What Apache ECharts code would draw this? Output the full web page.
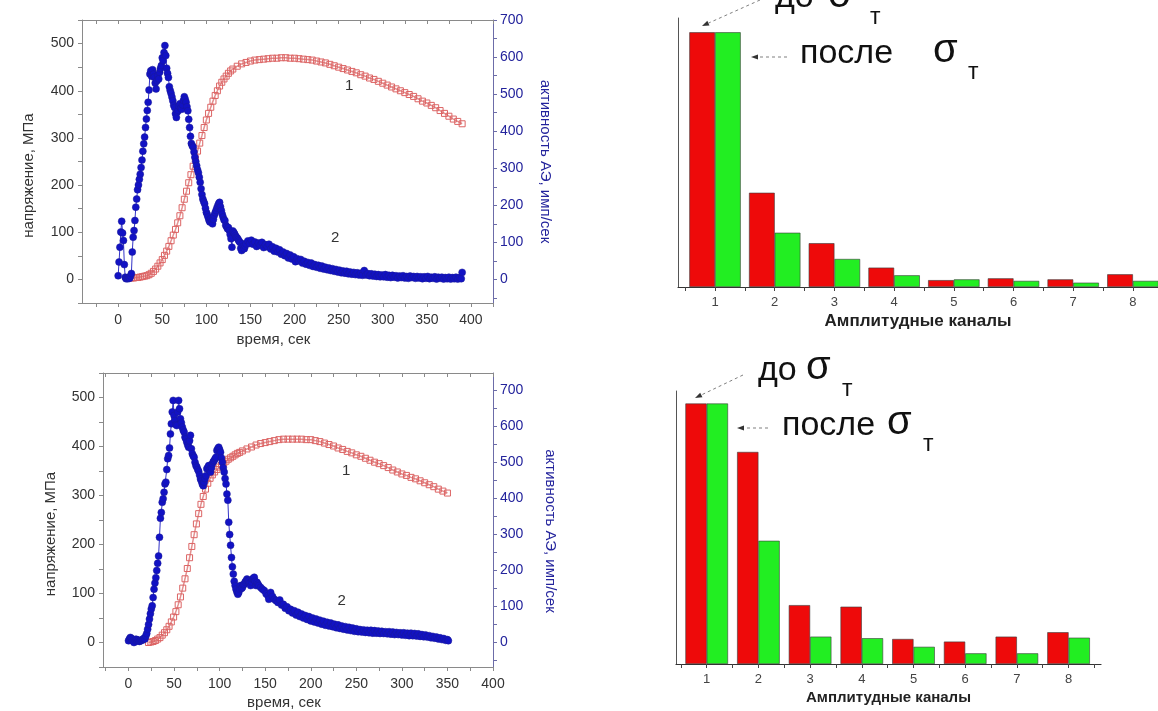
<!DOCTYPE html>
<html><head><meta charset="utf-8">
<script src="https://cdn.jsdelivr.net/npm/echarts@6/dist/echarts.min.js"></script>
<style>html,body{margin:0;padding:0;background:#fff}#c{width:1158px;height:711px}</style>
</head><body><div id="c"></div><script>
// ---------- data ----------
const timeTicksTop = [-25,0,25,50,75,100,125,150,175,200,225,250,275,300,325,350,375,400,425];
const timeTicksBottom = [-25,0,25,50,75,100,125,150,175,200,225,250,275,300,325,350,375,400];
const timeLabels = [0,50,100,150,200,250,300,350,400];
const stressTicks = [-50,0,50,100,150,200,250,300,350,400,450,500,550];
const stressLabels = [0,100,200,300,400,500];
const activityTicks = [-50,0,50,100,150,200,250,300,350,400,450,500,550,600,650,700];
const activityLabels = [0,100,200,300,400,500,600,700];
const channels = [1,2,3,4,5,6,7,8];
const channelTicks = [0.5,1,1.5,2,2.5,3,3.5,4,4.5,5,5.5,6,6.5,7,7.5,8,8.5];

// top-left: stress (MPa) vs time
const topStress = [[15,3],[17.5,3],[20,4],[22.5,4],[25,5],[27.5,6],[30,7],[32.5,8],[35,10],[37.5,13],[40,17],[42.5,22],[45,28],[47.5,35],[50,42],[52.5,51],[55,60],[57.5,70],[60,82],[62.5,94],[65,106],[67.5,120],[70,135],[72.5,152],[75,170],[77.5,187],[80,205],[82.5,222],[85,240],[87.5,256],[90,272],[92.5,289],[95,305],[97.5,322],[100,338],[102.5,352],[105,365],[107.5,378],[110,390],[112.5,400],[115,410],[117.5,418],[120,425],[122.5,431],[125,437],[127.5,442],[130,446],[135,452],[140,457],[145,460],[150,463],[155,465],[160,466],[165,467],[170,468],[175,469],[180,469],[185,470],[190,470],[195,469],[200,469],[205,468],[210,467],[215,466],[220,465],[225,463],[230,461],[235,459],[240,456],[245,453],[250,450],[255,447],[260,444],[265,441],[270,438],[275,434],[280,431],[285,427],[290,424],[295,420],[300,416],[305,412],[310,408],[315,404],[320,400],[325,396],[330,392],[335,388],[340,383],[345,378],[350,374],[355,369],[360,364],[365,358],[370,352],[375,346],[380,340],[385,335],[390,330]];
// top-left: AE activity (imp/s) vs time
const topActivity = [[0,10],[1,47],[2,87],[3,128],[4,157],[5,125],[6,105],[7,40],[8,6],[9,2],[10,4],[11,2],[12,5],[13,3],[14,9],[15,16],[16,74],[17,114],[18,132],[19,159],[20,195],[21,217],[22,242],[23,255],[24,270],[25,284],[26,302],[27,322],[28,346],[29,366],[30,384],[31,410],[32,433],[33,456],[34,478],[35,511],[36,554],[37,563],[38,548],[39,566],[40,554],[41,546],[42,530],[43,514],[44,536],[45,550],[46,541],[47,559],[48,569],[49,577],[50,598],[51,590],[52,612],[53,631],[54,604],[55,570],[56,556],[57,545],[58,520],[59,510],[60,502],[61,492],[62,482],[63,470],[64,464],[65,447],[66,437],[67,452],[68,456],[69,468],[70,474],[71,462],[72,459],[73,471],[74,483],[75,493],[76,486],[77,478],[78,466],[79,455],[80,432],[81,410],[82,386],[83,367],[84,361],[85,357],[86,344],[87,330],[88,318],[89,307],[90,296],[91,288],[92,276],[93,262],[94,245],[95,229],[96,217],[97,210],[98,204],[99,192],[100,181],[101,175],[102,168],[103,160],[104,155],[105,164],[106,158],[107,150],[108,162],[109,173],[110,180],[111,186],[112,193],[113,199],[114,205],[115,208],[116,196],[117,186],[118,176],[119,168],[120,161],[121,159],[122,146],[123,142],[124,137],[125,140],[126,132],[127,121],[128,110],[129,87],[130,131],[131,127],[132,123],[133,118],[134,114],[135,112],[136,108],[137,104],[138,100],[139,84],[140,78],[141,96],[142,90],[143,83],[144,90],[145,96],[147,104],[149,97],[151,106],[153,95],[155,101],[157,89],[159,98],[161,92],[163,100],[165,86],[167,94],[169,88],[171,95],[173,82],[175,88],[177,76],[179,84],[181,74],[183,80],[185,68],[187,74],[189,64],[191,70],[193,58],[195,66],[197,55],[199,61],[201,48],[203,56],[205,50],[207,54],[209,44],[211,49],[213,41],[215,46],[217,38],[219,44],[221,35],[223,40],[225,33],[227,38],[229,30],[231,36],[233,28],[235,33],[237,26],[239,31],[241,24],[243,29],[245,22],[247,27],[249,20],[251,25],[253,18],[255,23],[257,17],[259,22],[261,15],[263,20],[265,14],[267,19],[269,13],[271,18],[273,12],[275,17],[277,11],[279,24],[281,12],[283,16],[285,10],[287,15],[289,9],[291,14],[293,8],[295,13],[297,7],[299,12],[301,7],[303,13],[305,6],[307,11],[309,5],[311,11],[313,6],[315,10],[317,4],[319,9],[321,5],[323,10],[325,4],[327,8],[329,3],[331,9],[333,5],[335,8],[337,3],[339,8],[341,4],[343,7],[345,2],[347,7],[349,3],[351,8],[353,2],[355,6],[357,3],[359,7],[361,1],[363,6],[365,3],[367,6],[369,1],[371,5],[373,2],[375,6],[377,1],[379,5],[381,2],[383,6],[385,1],[387,5],[389,2],[390,19]];

// bottom-left
const bottomStress = [[22,0],[24.5,1],[27,2],[29.5,4],[32,7],[34.5,10],[37,15],[39.5,20],[42,26],[44.5,33],[47,42],[49.5,52],[52,63],[54.5,77],[57,93],[59.5,111],[62,130],[64.5,151],[67,173],[69.5,196],[72,220],[74.5,242],[77,263],[79.5,282],[82,298],[84.5,313],[87,325],[89.5,335],[92,342],[94.5,348],[97,353],[99.5,358],[102,362],[104.5,366],[107,370],[109.5,374],[112,377],[114.5,380],[117,383],[119.5,386],[122,388],[125,391],[130,395],[135,399],[140,403],[145,406],[150,408],[155,410],[160,412],[165,414],[170,415],[175,415],[180,415],[185,415],[190,415],[195,414],[200,414],[205,412],[210,410],[215,407],[220,404],[225,401],[230,397],[235,394],[240,390],[245,387],[250,383],[255,380],[260,376],[265,372],[270,368],[275,365],[280,361],[285,357],[290,352],[295,348],[300,344],[305,341],[310,337],[315,334],[320,330],[325,326],[330,322],[335,318],[340,313],[345,309],[350,305]];
const bottomActivity = [[0,5],[1,10],[2,14],[3,12],[4,9],[5,4],[6,0],[7,6],[8,9],[9,8],[10,4],[11,6],[12,3],[13,5],[14,7],[15,6],[16,9],[17,12],[18,10],[19,18],[20,25],[21,37],[22,50],[23,65],[24,80],[25,93],[26,102],[27,125],[28,148],[29,165],[30,180],[31,200],[32,220],[33,240],[34,292],[35,345],[36,361],[37,389],[38,399],[39,417],[40,440],[41,445],[42,480],[43,510],[44,519],[45,540],[46,579],[47,607],[48,640],[49,672],[50,630],[51,616],[52,605],[53,602],[54,640],[55,672],[56,649],[57,621],[58,610],[59,598],[60,590],[61,584],[62,570],[63,565],[64,556],[65,548],[66,542],[67,560],[68,575],[69,538],[70,524],[71,518],[72,514],[73,500],[74,491],[75,487],[76,480],[77,475],[78,465],[79,454],[80,448],[81,440],[82,435],[83,445],[84,455],[85,463],[86,482],[87,486],[88,491],[89,480],[90,473],[91,485],[92,496],[93,502],[94,505],[95,510],[96,514],[97,533],[98,538],[99,542],[100,535],[101,528],[102,512],[103,500],[104,485],[105,473],[106,455],[107,440],[108,412],[109,395],[110,334],[111,300],[112,270],[113,236],[114,210],[115,190],[116,170],[117,158],[118,148],[119,140],[120,134],[121,139],[122,148],[123,158],[124,150],[125,153],[126,160],[127,162],[128,168],[129,171],[130,176],[131,172],[132,171],[133,165],[134,158],[135,168],[136,176],[137,178],[138,181],[139,170],[140,158],[141,167],[142,162],[143,158],[145,153],[147,148],[149,144],[151,135],[153,130],[154,120],[156,139],[158,128],[160,120],[162,116],[164,111],[166,118],[168,104],[170,106],[172,95],[174,99],[176,88],[178,92],[180,82],[182,88],[184,76],[186,84],[188,72],[190,79],[192,68],[194,75],[196,64],[198,72],[200,60],[202,68],[204,57],[206,65],[208,54],[210,62],[212,51],[214,59],[216,48],[218,56],[220,46],[222,54],[224,44],[226,51],[228,41],[230,49],[232,39],[234,46],[236,37],[238,44],[240,35],[242,42],[244,33],[246,40],[248,31],[250,38],[252,30],[254,36],[256,29],[258,35],[260,28],[262,34],[264,27],[266,34],[268,26],[270,33],[272,26],[274,32],[276,25],[278,31],[280,25],[282,30],[284,24],[286,30],[288,23],[290,29],[292,22],[294,28],[296,22],[298,27],[300,21],[302,27],[304,20],[306,26],[308,19],[310,26],[312,19],[314,25],[316,18],[318,24],[320,17],[322,22],[324,16],[326,21],[328,15],[330,19],[332,13],[334,17],[336,12],[338,15],[340,10],[342,13],[344,8],[346,11],[348,6],[350,8],[351,5]];

// amplitude channel histograms (relative units)
const topBefore = [100, 37, 17.2, 7.6, 2.7, 3.4, 3.0, 5.0];
const topAfter = [100, 21.3, 11.0, 4.6, 3.0, 2.4, 1.7, 2.4];
const bottomBefore = [100, 81.4, 22.6, 22.0, 9.6, 8.6, 10.5, 12.2];
const bottomAfter = [100, 47.3, 10.5, 9.9, 6.6, 4.1, 4.1, 10.1];

// ---------- chart ----------
const FONT = 'Liberation Sans, Arial, sans-serif';
const GRAY = '#8a8a8a';
const BLUE_AX = '#6c6ca8';
const BLUE_TXT = '#23239c';
const pairs = (xs, ys) => xs.map((x, i) => [x, ys[i]]);

function timeAxis(grid, min, max, ticks, bottom, nameGap) {
  return {
    type: 'value', gridIndex: grid, min, max, position: bottom ? 'bottom' : 'top',
    name: bottom ? 'время, сек' : '', nameLocation: 'middle', nameGap,
    nameTextStyle: {fontFamily: FONT, fontSize: 15, color: '#333', padding: [0, 28, 0, 0]},
    axisLine: {show: true, onZero: false, lineStyle: {color: GRAY, width: 1}},
    axisTick: {show: true, inside: !bottom, length: 4, customValues: ticks, lineStyle: {color: GRAY}},
    axisLabel: {show: bottom, customValues: timeLabels, margin: 10, fontFamily: FONT, fontSize: 14, color: '#333'},
    splitLine: {show: false}
  };
}
function stressAxis(grid, nameGap) {
  return {
    type: 'value', gridIndex: grid, min: -50, max: 550, position: 'left',
    name: 'напряжение, МПа', nameLocation: 'middle', nameGap, nameRotate: 90,
    nameTextStyle: {fontFamily: FONT, fontSize: 15, color: '#333', padding: [0, 28, 0, 0]},
    axisLine: {show: true, onZero: false, lineStyle: {color: GRAY, width: 1}},
    axisTick: {show: true, length: 4, customValues: stressTicks, lineStyle: {color: GRAY}},
    axisLabel: {customValues: stressLabels, margin: 8, fontFamily: FONT, fontSize: 14, color: '#333'},
    splitLine: {show: false}
  };
}
function activityAxis(grid, min, max, nameGap, pad) {
  return {
    type: 'value', gridIndex: grid, min, max, position: 'right',
    name: 'активность АЭ, имп/сек', nameLocation: 'middle', nameGap, nameRotate: -90,
    nameTextStyle: {fontFamily: FONT, fontSize: 15, color: BLUE_TXT, padding: [0, 0, 0, pad]},
    axisLine: {show: true, onZero: false, lineStyle: {color: BLUE_AX, width: 1}},
    axisTick: {show: true, length: 4, customValues: activityTicks.filter(v => v <= max), lineStyle: {color: BLUE_AX}},
    axisLabel: {customValues: activityLabels, margin: 7, fontFamily: FONT, fontSize: 14, color: BLUE_TXT},
    splitLine: {show: false}
  };
}
function channelAxis(grid, min, max, nameSize) {
  return {
    type: 'value', gridIndex: grid, min, max,
    name: 'Амплитудные каналы', nameLocation: 'middle', nameGap: 26,
    nameTextStyle: {fontFamily: FONT, fontSize: nameSize, fontWeight: 'bold', color: '#222'},
    axisLine: {show: true, onZero: false, lineStyle: {color: '#333', width: 1.2}},
    axisTick: {show: true, length: 4, customValues: channelTicks, lineStyle: {color: '#444'}},
    axisLabel: {customValues: channels, margin: 9, fontFamily: FONT, fontSize: 13, color: '#444'},
    splitLine: {show: false}
  };
}
function countAxis(grid, max) {
  return {
    type: 'value', gridIndex: grid, min: 0, max,
    axisLine: {show: true, lineStyle: {color: '#555', width: 1}},
    axisTick: {show: false}, axisLabel: {show: false}, splitLine: {show: false}
  };
}
function stressSeries(x, y, data, labels) {
  return {
    type: 'line', xAxisIndex: x, yAxisIndex: y, data, z: 2,
    symbol: 'rect', symbolSize: 6, showSymbol: true,
    itemStyle: {color: 'rgba(255,255,255,0)', borderColor: '#dc6464', borderWidth: 1},
    lineStyle: {color: '#e39090', width: 1.5},
    markPoint: {symbol: 'circle', symbolSize: 0, silent: true,
      label: {show: true, formatter: p => p.name, fontFamily: FONT, fontSize: 15, color: '#333'},
      data: labels}
  };
}
function activitySeries(x, y, data) {
  return {
    type: 'line', xAxisIndex: x, yAxisIndex: y, data, z: 3,
    symbol: 'circle', symbolSize: 7, showSymbol: true,
    itemStyle: {color: '#1212c4', borderColor: '#1a1a96', borderWidth: 0.5},
    lineStyle: {color: '#3434c8', width: 1}
  };
}
function barSeries(x, y, values, color, width) {
  return {
    type: 'bar', xAxisIndex: x, yAxisIndex: y, data: pairs(channels, values),
    barWidth: width, barGap: '0%',
    itemStyle: {color, borderColor: '#3a3a3a', borderWidth: 0.6}
  };
}
function arrow(x1, y1, x2, y2) {
  const a = Math.atan2(y2 - y1, x2 - x1), L = 7, W = 2.6;
  const bx = x2 - L * Math.cos(a), by = y2 - L * Math.sin(a);
  const px = -Math.sin(a) * W, py = Math.cos(a) * W;
  return [
    {type: 'line', shape: {x1, y1, x2: bx, y2: by}, style: {stroke: '#808080', lineWidth: 1, lineDash: [3, 3]}},
    {type: 'polygon', shape: {points: [[x2, y2], [bx + px, by + py], [bx - px, by - py]]}, style: {fill: '#333'}}
  ];
}
function label(x, base, text, fs) {
  return {type: 'text', x, y: base - 0.34 * fs,
    style: {text, font: fs + 'px ' + FONT, fill: '#111', verticalAlign: 'middle', align: 'left'}};
}
function sigmaLabel(xWord, xSig, xSub, base, subBase, word) {
  return [label(xWord, base, word, 34), label(xSig, base, 'σ', 40), label(xSub, subBase, 'т', 23)];
}

const chart = echarts.init(document.getElementById('c'), null, {renderer: 'canvas'});
chart.setOption({
  animation: false,
  backgroundColor: '#ffffff',
  grid: [
    {left: 82, top: 20, width: 411, height: 283},
    {left: 103, top: 373, width: 390, height: 294},
    {left: 678, top: 18, width: 480, height: 269},
    {left: 676, top: 391, width: 425, height: 273}
  ],
  xAxis: [
    timeAxis(0, -41, 425, timeTicksTop, true, 29),
    timeAxis(0, -41, 425, timeTicksTop, false, 0),
    timeAxis(1, -28, 400, timeTicksBottom, true, 28),
    timeAxis(1, -28, 400, timeTicksBottom, false, 0),
    channelAxis(2, 0.38, 8.42, 17),
    channelAxis(3, 0.406, 8.627, 15)
  ],
  yAxis: [
    stressAxis(0, 46),
    activityAxis(0, -63.6, 700, 45, 0),
    stressAxis(1, 45),
    activityAxis(1, -68, 748, 50, 22),
    countAxis(2, 105.6),
    countAxis(3, 104.8)
  ],
  series: [
    stressSeries(0, 0, topStress, [{name: '1', coord: [262, 410]}, {name: '2', coord: [246, 88]}]),
    activitySeries(0, 1, topActivity),
    stressSeries(2, 2, bottomStress, [{name: '1', coord: [239, 350]}, {name: '2', coord: [234, 86]}]),
    activitySeries(2, 3, bottomActivity),
    barSeries(4, 4, topBefore, '#ee0a0a', 25.7),
    barSeries(4, 4, topAfter, '#22ee22', 25.7),
    barSeries(5, 5, bottomBefore, '#ee0a0a', 21.3),
    barSeries(5, 5, bottomAfter, '#22ee22', 21.3)
  ],
  graphic: [].concat(
    arrow(760, 0, 702, 26),
    arrow(787, 57, 751, 57),
    sigmaLabel(775, 828, 870, 9.5, 25, 'до'),
    sigmaLabel(800, 933, 968, 65, 80, 'после'),
    arrow(743, 375, 695, 398),
    arrow(768, 428, 737, 428),
    sigmaLabel(758, 806, 842, 382, 397, 'до'),
    sigmaLabel(782, 887, 923, 437, 452, 'после')
  )
});
</script></body></html>
